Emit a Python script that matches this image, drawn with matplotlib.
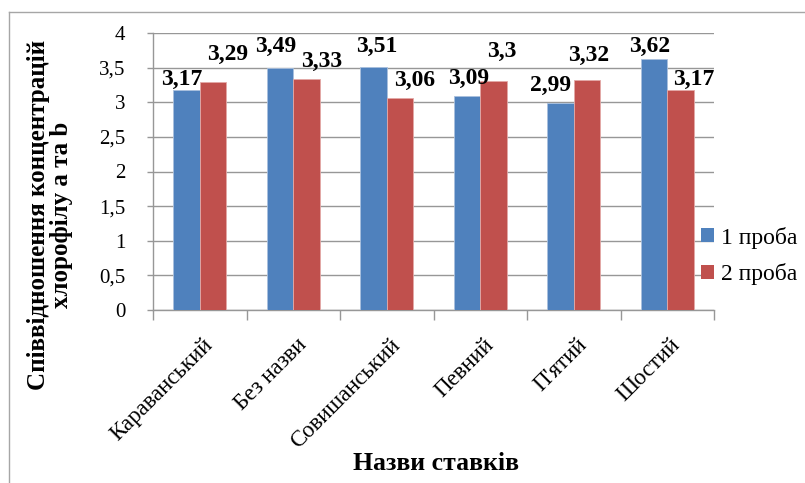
import matplotlib
matplotlib.use("Agg")
import matplotlib.pyplot as plt
from matplotlib.lines import Line2D
import numpy as np

# Chlorophyll a/b ratio per pond, two sampling rounds
ponds = ["Караванський", "Без назви", "Совишанський", "Певний", "П'ятий", "Шостий"]
sample1 = [3.17, 3.49, 3.51, 3.09, 2.99, 3.62]
sample2 = [3.29, 3.33, 3.06, 3.30, 3.32, 3.17]
series_names = ["1 проба", "2 проба"]
y_ticks = [0, 0.5, 1, 1.5, 2, 2.5, 3, 3.5, 4]

# label placement tweaks (pixels: right, up from bar top)
label_offsets_1 = [(-5, 11), (-4, 22), (3, 20), (2, 18), (-10, 17), (-4, 13)]
label_offsets_2 = [(15, 28), (15, 18), (15, 18), (8, 30), (2, 25), (13, 11)]

BLUE = "#4F81BD"
RED = "#C0504D"
GRID = "#979797"

plt.rcParams["font.family"] = "serif"
plt.rcParams["font.serif"] = ["Liberation Serif", "DejaVu Serif"]

W, H = 805, 483
fig = plt.figure(figsize=(W / 100, H / 100), dpi=100)
fig.patch.set_facecolor("white")

L, R, T, B = 153, 714, 33, 310
ax = fig.add_axes([L / W, 1 - B / H, (R - L) / W, (B - T) / H])

x = np.arange(len(ponds))
bw = 0.2834
bars1 = ax.bar(x - bw / 2, sample1, bw, color=BLUE, edgecolor="#A9C0DE",
               linewidth=0.6, label=series_names[0], zorder=3)
bars2 = ax.bar(x + bw / 2, sample2, bw, color=RED, edgecolor="#E3A9A7",
               linewidth=0.6, label=series_names[1], zorder=3)

def fmt(v):
    s = f"{v:.2f}".rstrip("0").rstrip(".")
    return s.replace(".", ",")

for bars, vals, offs in ((bars1, sample1, label_offsets_1),
                         (bars2, sample2, label_offsets_2)):
    for b, v, (dx, dy) in zip(bars, vals, offs):
        ax.annotate(fmt(v), xy=(b.get_x() + b.get_width() / 2, v),
                    xytext=(dx, dy), textcoords="offset pixels",
                    ha="center", va="center", fontsize=17,
                    fontweight="bold", zorder=5, annotation_clip=False)

ax.set_xlim(-0.5, len(ponds) - 0.5)
ax.set_ylim(0, 4)
ax.set_yticks(y_ticks)
ax.set_yticklabels([fmt(t) for t in y_ticks], fontsize=15)
ax.yaxis.grid(True, color=GRID, linewidth=1.0, zorder=0)
ax.set_axisbelow(True)

ax.set_xticks(np.arange(-0.5, len(ponds)), minor=False)
ax.set_xticklabels([])
ax.tick_params(axis="x", length=7, color=GRID, width=1.0)
ax.tick_params(axis="y", length=4, color=GRID, width=1.0, pad=16)

for side in ("top", "right"):
    ax.spines[side].set_visible(False)
for side in ("left", "bottom"):
    ax.spines[side].set_color(GRID)
    ax.spines[side].set_linewidth(1.0)

# rotated category names
for i, name in enumerate(ponds):
    ax.annotate(name, xy=(i, 0), xytext=(10, -32), textcoords="offset pixels",
                ha="right", va="center", rotation=45, rotation_mode="anchor",
                fontsize=16.5, annotation_clip=False)

fig.text(436 / W, 1 - 464 / H, "Назви ставків", ha="center", va="center",
         fontsize=18.5, fontweight="bold")
fig.text(50 / W, 1 - 215 / H, "Співвідношення концентрацій\nхлорофілу a та b",
         ha="center", va="center", rotation=90, fontsize=18,
         fontweight="bold", linespacing=1.05, multialignment="center")

leg = ax.legend(loc="center left", bbox_to_anchor=(701 / W, 1 - 256 / H),
                bbox_transform=fig.transFigure, frameon=False, fontsize=17,
                handlelength=0.55, handleheight=0.55, handletextpad=0.3,
                labelspacing=0.62, borderpad=0, borderaxespad=0)
for h in leg.legend_handles:
    h.set_linewidth(0)

# outer chart frame
fig.add_artist(Line2D([9 / W, 9 / W], [0, 1 - 12 / H], transform=fig.transFigure,
                      color="#A6A6A6", linewidth=1.0))
fig.add_artist(Line2D([9 / W, 1], [1 - 12 / H, 1 - 12 / H], transform=fig.transFigure,
                      color="#A6A6A6", linewidth=1.0))

fig.savefig("out.png", dpi=100, facecolor="white")
